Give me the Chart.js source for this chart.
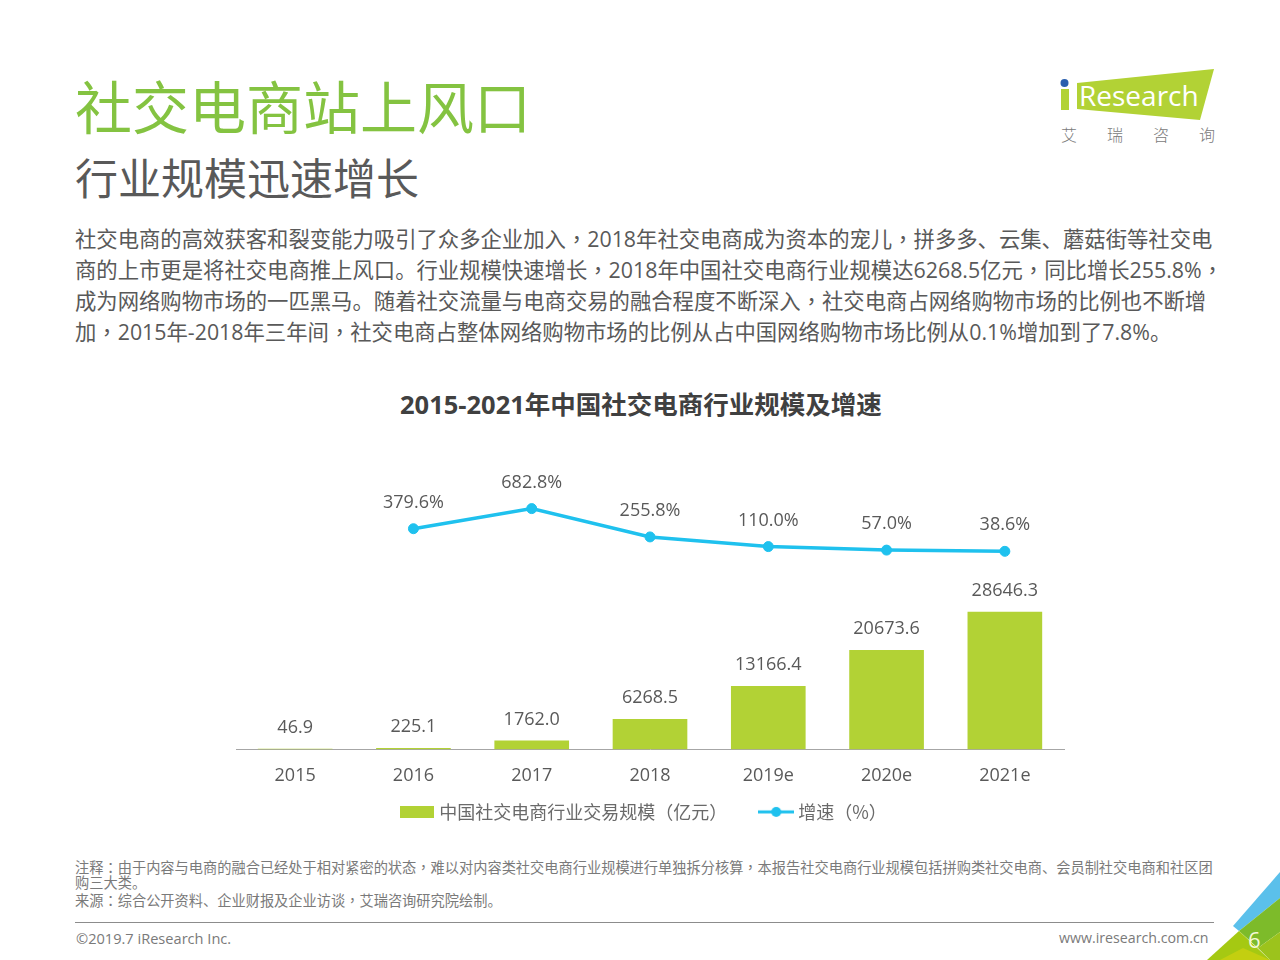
<!DOCTYPE html>
<html lang="zh">
<head>
<meta charset="utf-8">
<title>社交电商站上风口</title>
<script src="https://cdn.jsdelivr.net/npm/chart.js@4"></script>
<style>
    html, body { margin: 0; padding: 0; background: #fff; }
    #page { position: relative; width: 1280px; height: 960px; overflow: hidden; }
    .t { position: absolute; white-space: nowrap; line-height: 1; font-family: "Open Sans", "Noto Sans CJK SC", sans-serif; }
    /* the reference centres commas and colons, the TC cut does that */
    .p { font-family: "Noto Sans CJK TC"; line-height: 0; }
    #title { left: 75px; top: 70px; font-size: 57px; color: #84c341; font-family: "Noto Sans CJK SC"; line-height: 68px; }
    #subtitle { left: 75px; top: 149px; font-size: 43px; color: #595959; font-family: "Noto Sans CJK SC"; line-height: 54px; }
    .body { left: 75px; font-size: 21.35px; color: #595959; line-height: 31px; }
    #chartTitle { left: 400px; top: 386px; font-size: 25.5px; font-weight: 700; color: #404040; line-height: 36px; }
    .note { left: 75px; font-size: 14.22px; color: #7a7a7a; line-height: 16px; }
    #rule { position: absolute; left: 75px; top: 922px; width: 1139px; height: 1px; background: #8c8c8c; }
    .foot { color: #7a7a7a; top: 930px; line-height: 16px; }
    #pageNo { left: 1248px; top: 926px; font-size: 22px; color: #f4f8d8; line-height: 26px; }
    .logoCn { top: 125px; font-size: 16px; color: #7a7a7a; line-height: 18px; font-family: "Noto Sans CJK SC"; font-weight: 300; }
    svg { position: absolute; }
    #chartBox { position: absolute; left: 157px; top: 450px; width: 960px; height: 384px; }
</style>
</head>
<body>
<div id="page">
    <div class="t" id="title">社交电商站上风口</div>
    <div class="t" id="subtitle">行业规模迅速增长</div>

    <div class="t body" style="top:223px">社交电商的高效获客和裂变能力吸引了众多企业加入，2018年社交电商成为资本的宠儿，拼多多、云集、蘑菇街等社交电</div>
    <div class="t body" style="top:254px">商的上市更是将社交电商推上风口。行业规模快速增长，2018年中国社交电商行业规模达6268.5亿元，同比增长255.8%，</div>
    <div class="t body" style="top:285px">成为网络购物市场的一匹黑马。随着社交流量与电商交易的融合程度不断深入，社交电商占网络购物市场的比例也不断增</div>
    <div class="t body" style="top:316px">加，2015年-2018年三年间，社交电商占整体网络购物市场的比例从占中国网络购物市场比例从0.1%增加到了7.8%。</div>

    <div class="t" id="chartTitle">2015-2021年中国社交电商行业规模及增速</div>

    <div id="chartBox"><canvas id="scaleChart" width="960" height="384"></canvas></div>

    <div class="t note" style="top:860px">注释：由于内容与电商的融合已经处于相对紧密的状态，难以对内容类社交电商行业规模进行单独拆分核算，本报告社交电商行业规模包括拼购类社交电商、会员制社交电商和社区团</div>
    <div class="t note" style="top:875px">购三大类。</div>
    <div class="t note" style="top:893px">来源：综合公开资料、企业财报及企业访谈，艾瑞咨询研究院绘制。</div>

    <div id="rule"></div>
    <div class="t foot" style="left:76px;font-size:14.6px">©2019.7 iResearch Inc.</div>
    <div class="t foot" style="left:1059px;font-size:14.2px">www.iresearch.com.cn</div>

    <!-- logo -->
    <svg style="left:1050px;top:60px" width="180" height="70" viewBox="1050 60 180 70">
        <polygon points="1077,83 1214,69 1200,120 1077,109" fill="#b2d235"/>
        <rect x="1061" y="89" width="8" height="21" fill="#b2d235"/>
        <circle cx="1064.5" cy="83" r="4" fill="#2b5fae"/>
        <text x="1079" y="106" font-family="Open Sans" font-size="28" fill="#fff">Research</text>
    </svg>
    <div class="t logoCn" style="left:1061px">艾</div>
    <div class="t logoCn" style="left:1107px">瑞</div>
    <div class="t logoCn" style="left:1153px">咨</div>
    <div class="t logoCn" style="left:1199px">询</div>

    <!-- corner decoration -->
    <svg style="left:1200px;top:860px" width="80" height="100" viewBox="1200 860 80 100">
        <polygon points="1280,872 1233,926 1239,931 1280,898" fill="#5bc0eb"/>
        <polygon points="1239,931 1280,898 1280,932 1258,948" fill="#7dbb2a"/>
        <polygon points="1258,948 1280,932 1280,960 1270,960" fill="#9cc31c"/>
        <polygon points="1239,931 1207,960 1270,960" fill="#a5c912"/>
        <polygon points="1220,960 1243,948 1270,960" fill="#c3cf10"/>
    </svg>
    <div class="t" id="pageNo">6</div>
</div>

<script>
const years = ['2015', '2016', '2017', '2018', '2019e', '2020e', '2021e'];
const marketSize = [46.9, 225.1, 1762.0, 6268.5, 13166.4, 20673.6, 28646.3];
const marketLabels = ['46.9', '225.1', '1762.0', '6268.5', '13166.4', '20673.6', '28646.3'];
const growthRate = [null, 379.6, 682.8, 255.8, 110.0, 57.0, 38.6];
const growthLabels = ['', '379.6%', '682.8%', '255.8%', '110.0%', '57.0%', '38.6%'];
const sizeLegend = '中国社交电商行业交易规模（亿元）';
const growthLegend = '增速（%）';

const BAR_GREEN = '#b2d235';
const LINE_BLUE = '#1fc1ee';
const TEXT_GREY = '#595959';
const FONT_FAMILY = '"Open Sans", "Noto Sans CJK SC", sans-serif';

document.querySelectorAll('.body, .note').forEach(el => {
    el.innerHTML = el.innerHTML.replace(/[，：]/g, m => `<span class="p" lang="zh-TW">${m}</span>`);
});

// legend swatches, the line one needs a dot on it
function barSwatch() {
    const c = document.createElement('canvas');
    c.width = 34; c.height = 12;
    const x = c.getContext('2d');
    x.fillStyle = BAR_GREEN;
    x.fillRect(0, 0, 34, 12);
    return c;
}

function lineSwatch() {
    const c = document.createElement('canvas');
    c.width = 36; c.height = 12;
    const x = c.getContext('2d');
    x.fillStyle = LINE_BLUE;
    x.fillRect(0, 4.5, 36, 3);
    x.beginPath();
    x.arc(18, 6, 5, 0, Math.PI * 2);
    x.fill();
    return c;
}

// value labels above bars and points
const valueLabels = {
    id: 'valueLabels',
    afterDatasetsDraw(chart) {
        const ctx = chart.ctx;
        ctx.save();
        ctx.font = '18px ' + FONT_FAMILY;
        ctx.fillStyle = TEXT_GREY;
        ctx.textAlign = 'center';
        ctx.textBaseline = 'middle';
        chart.getDatasetMeta(0).data.forEach((el, i) => ctx.fillText(marketLabels[i], el.x, el.y - 21));
        chart.getDatasetMeta(1).data.forEach((el, i) => {
            if (growthRate[i] !== null) ctx.fillText(growthLabels[i], el.x, el.y - 26);
        });
        ctx.restore();
    }
};

new Chart(document.getElementById('scaleChart').getContext('2d'), {
    data: {
        labels: years,
        datasets: [
            {
                type: 'bar',
                label: sizeLegend,
                data: marketSize,
                backgroundColor: BAR_GREEN,
                barThickness: 74,
                yAxisID: 'y',
                order: 2
            },
            {
                type: 'line',
                label: growthLegend,
                data: growthRate,
                borderColor: LINE_BLUE,
                backgroundColor: LINE_BLUE,
                borderWidth: 3.5,
                pointRadius: 5,
                pointBorderWidth: 1,
                tension: 0,
                yAxisID: 'y1',
                order: 1
            }
        ]
    },
    options: {
        responsive: false,
        animation: false,
        layout: { padding: { left: 79, right: 53, top: 21.6, bottom: 3.1 } },
        scales: {
            x: {
                grid: { display: false, drawTicks: false },
                border: { color: '#a6a6a6', width: 1 },
                ticks: { color: TEXT_GREY, font: { size: 18, family: FONT_FAMILY }, padding: 16, maxRotation: 0 }
            },
            y: { display: false, min: 0, max: 58000 },
            y1: { display: false, min: -2947, max: 1241 }
        },
        plugins: {
            legend: {
                position: 'bottom',
                labels: {
                    color: '#6a6a6a',
                    font: { size: 18, lineHeight: 1, family: '"Noto Sans CJK TC", sans-serif' },
                    usePointStyle: true,
                    pointStyleWidth: 26,
                    padding: 0,
                    boxHeight: 12,
                    // wide spaces set the gap between the items and pull the legend left of the plot centre
                    generateLabels: () => [
                        { text: sizeLegend + '\u3000\u3000\u2002', pointStyle: barSwatch(), fontColor: '#6a6a6a', datasetIndex: 0, lineWidth: 0 },
                        { text: growthLegend + '\u2002', pointStyle: lineSwatch(), fontColor: '#6a6a6a', datasetIndex: 1, lineWidth: 0 }
                    ]
                }
            },
            tooltip: { enabled: false }
        }
    },
    plugins: [valueLabels]
});
</script>
</body>
</html>
